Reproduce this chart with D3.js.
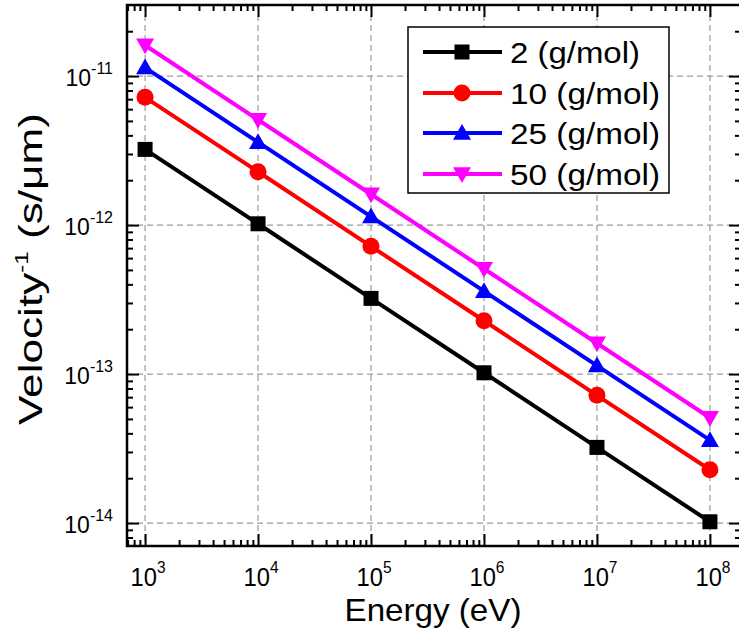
<!DOCTYPE html>
<html><head><meta charset="utf-8">
<script src="https://cdn.jsdelivr.net/npm/d3@7"></script>
<style>body{margin:0;background:#fff;} svg{display:block;font-family:"Liberation Sans",Arial,sans-serif;}</style>
</head><body>
<svg id="c" width="739" height="636"></svg>
<script>
const energies = [1e3, 1e4, 1e5, 1e6, 1e7, 1e8];
const seriesNames = ["2 (g/mol)", "10 (g/mol)", "25 (g/mol)", "50 (g/mol)"];
const seriesColors = ["#000000", "#ff0000", "#0000ff", "#ff00ff"];
const seriesSymbols = ["square", "circle", "triangleUp", "triangleDown"];
const m2 = [3.22e-12, 1.02e-12, 3.22e-13, 1.02e-13, 3.22e-14, 1.02e-14];
const m10 = [7.2e-12, 2.28e-12, 7.2e-13, 2.28e-13, 7.2e-14, 2.28e-14];
const m25 = [1.14e-11, 3.6e-12, 1.14e-12, 3.6e-13, 1.14e-13, 3.6e-14];
const m50 = [1.61e-11, 5.09e-12, 1.61e-12, 5.09e-13, 1.61e-13, 5.09e-14];
const seriesValues = [m2, m10, m25, m50];
const xTickExps = [3, 4, 5, 6, 7, 8];
const yTickExps = [-14, -13, -12, -11];

const svg = d3.select("#c");
const L = 127, R = 741, T = 5, B = 546;
const x = d3.scaleLog().domain([Math.pow(10, 2.84), Math.pow(10, 8.275)]).range([L, R]);
const y = d3.scaleLog().domain([Math.pow(10, -14.154), Math.pow(10, -10.523)]).range([B, T]);

function fitWidth(sel, target, cx, cy, rot) {
  const w = sel.node().getComputedTextLength();
  const s = target / w;
  sel.attr("x", 0).attr("y", 0).attr("text-anchor", "middle")
    .attr("transform", `translate(${cx},${cy}) rotate(${rot || 0}) scale(${s},1)`);
}

const grid = svg.append("g").attr("stroke", "#999").attr("stroke-width", 1.2).attr("stroke-dasharray", "6,4");
xTickExps.forEach(e => { const xx = x(Math.pow(10, e)); grid.append("line").attr("x1", xx).attr("x2", xx).attr("y1", T).attr("y2", B); });
yTickExps.forEach(e => { const yy = y(Math.pow(10, e)); grid.append("line").attr("x1", L).attr("x2", R).attr("y1", yy).attr("y2", yy); });

const xMinor = [], yMinor = [];
for (let e = 2; e <= 8; e++) for (let k = 2; k <= 9; k++) { const v = k * Math.pow(10, e); if (v > x.domain()[0] && v < x.domain()[1]) xMinor.push(v); }
for (let e = -15; e <= -11; e++) for (let k = 2; k <= 9; k++) { const v = k * Math.pow(10, e); if (v > y.domain()[0] && v < y.domain()[1]) yMinor.push(v); }
const xMajor = xTickExps.map(e => Math.pow(10, e));
const yMajor = yTickExps.map(e => Math.pow(10, e));

function axisTicks(axisGen, transform, vals, size) {
  const g = svg.append("g").attr("transform", transform)
    .call(axisGen.tickValues(vals).tickSize(size).tickFormat(""));
  g.select(".domain").remove();
  g.selectAll(".tick line").attr("stroke", "#000").attr("stroke-width", 2);
  return g;
}
const MAJ = 12, MIN = 6;
axisTicks(d3.axisTop(x), `translate(0,${B})`, xMajor, MAJ);
axisTicks(d3.axisTop(x), `translate(0,${B})`, xMinor, MIN);
axisTicks(d3.axisBottom(x), `translate(0,${T})`, xMajor, MAJ);
axisTicks(d3.axisBottom(x), `translate(0,${T})`, xMinor, MIN);
axisTicks(d3.axisRight(y), `translate(${L},0)`, yMajor, MAJ);
axisTicks(d3.axisRight(y), `translate(${L},0)`, yMinor, MIN);
axisTicks(d3.axisLeft(y), `translate(${R},0)`, yMajor, MAJ);
axisTicks(d3.axisLeft(y), `translate(${R},0)`, yMinor, MIN);

svg.append("rect").attr("x", L).attr("y", T).attr("width", R - L).attr("height", B - T)
  .attr("fill", "none").attr("stroke", "#000").attr("stroke-width", 2.5);

xTickExps.forEach(e => {
  const t = svg.append("text").attr("font-size", 26).attr("fill", "#000");
  t.append("tspan").text("10");
  t.append("tspan").attr("dy", -13).attr("font-size", 17).text(e);
  fitWidth(t, 35, x(Math.pow(10, e)) + 3, 586);
});
yTickExps.forEach(e => {
  const t = svg.append("text").attr("x", 113).attr("y", y(Math.pow(10, e)) + 10).attr("font-size", 23).attr("text-anchor", "end").attr("fill", "#000");
  t.append("tspan").text("10");
  t.append("tspan").attr("dy", -12).attr("font-size", 16).text(e);
});

const xt = svg.append("text").attr("font-size", 32).text("Energy (eV)");
fitWidth(xt, 177, 433, 621);
const yt = svg.append("text").attr("font-size", 33);
yt.append("tspan").text("Velocity");
yt.append("tspan").attr("dy", -14).attr("font-size", 18).text("-1");
yt.append("tspan").attr("dy", 14).text(" (s/\u03bcm)");
fitWidth(yt, 312, 42, 269, -90);

function drawSymbol(g, type, cx, cy, color, s) {
  if (type === "square") g.append("rect").attr("x", cx - s / 2).attr("y", cy - s / 2).attr("width", s).attr("height", s).attr("fill", color);
  else if (type === "circle") g.append("circle").attr("cx", cx).attr("cy", cy).attr("r", s / 2 + 1).attr("fill", color);
  else if (type === "triangleUp") g.append("path").attr("d", `M${cx},${cy - s * 0.6}L${cx + s * 0.6},${cy + s * 0.45}L${cx - s * 0.6},${cy + s * 0.45}Z`).attr("fill", color);
  else g.append("path").attr("d", `M${cx},${cy + s * 0.6}L${cx + s * 0.6},${cy - s * 0.45}L${cx - s * 0.6},${cy - s * 0.45}Z`).attr("fill", color);
}

const line = d3.line().x(d => x(d[0])).y(d => y(d[1]));
seriesValues.forEach((vals, i) => {
  const pts = energies.map((e, j) => [e, vals[j]]);
  const g = svg.append("g");
  g.append("path").attr("d", line(pts)).attr("fill", "none").attr("stroke", seriesColors[i]).attr("stroke-width", 4);
  pts.forEach(p => drawSymbol(g, seriesSymbols[i], x(p[0]), y(p[1]), seriesColors[i], 15));
});

const lg = svg.append("g");
lg.append("rect").attr("x", 408).attr("y", 27).attr("width", 261).attr("height", 166).attr("fill", "#fff").attr("stroke", "#000").attr("stroke-width", 1.5);
const rowY = [52, 93, 133, 174];
const legendW = [130, 150, 150, 150];
seriesNames.forEach((n, i) => {
  lg.append("line").attr("x1", 423).attr("x2", 502).attr("y1", rowY[i]).attr("y2", rowY[i]).attr("stroke", seriesColors[i]).attr("stroke-width", 4);
  drawSymbol(lg, seriesSymbols[i], 462, rowY[i], seriesColors[i], 15);
  const t = lg.append("text").attr("font-size", 30).text(n);
  fitWidth(t, legendW[i], 510 + legendW[i] / 2, rowY[i] + 11);
});
</script>
</body></html>
